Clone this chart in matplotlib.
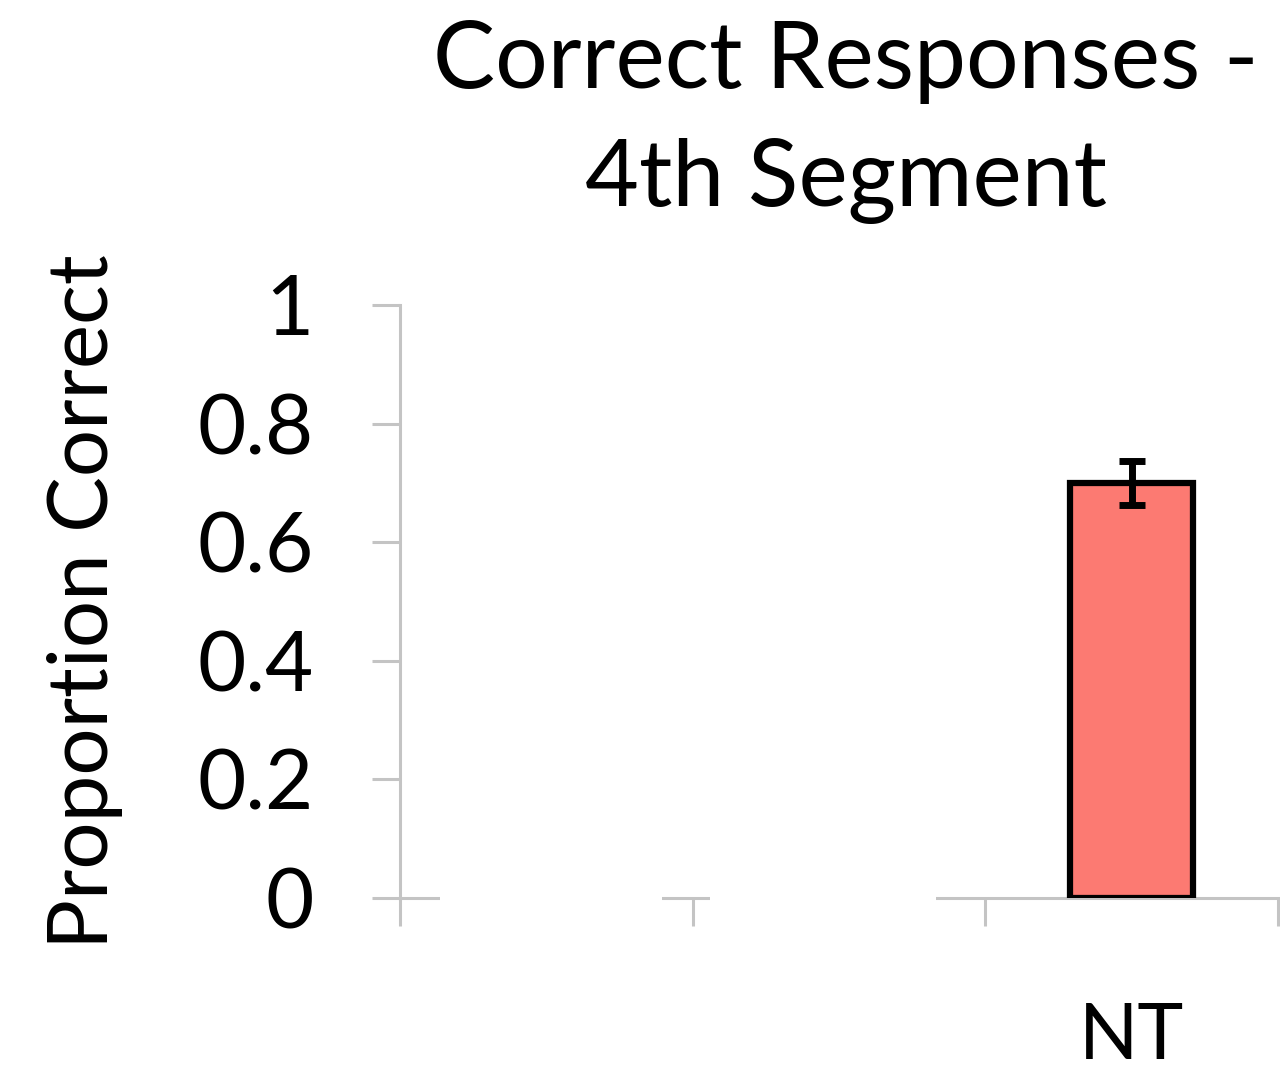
import numpy as np
import matplotlib.pyplot as plt

plt.rcParams['font.family'] = ['Lato', 'DejaVu Sans']

categories = ['', '', 'NT']
values = [np.nan, np.nan, 0.70]
errors = [0, 0, 0.037]
yticks = [0, 0.2, 0.4, 0.6, 0.8, 1]
ytick_labels = ['0', '0.2', '0.4', '0.6', '0.8', '1']

# parts of the baseline that are blanked out in the original
masked_spans = [(-0.363, 0.396), (0.56, 1.33)]

fig = plt.figure(figsize=(12.8, 10.83), dpi=100)
ax = fig.add_axes([0.3125, 0.1708, 0.686, 0.5476])

x = np.arange(len(categories))
ax.bar(x, values, width=0.42, color='#FC7A72', edgecolor='black', linewidth=4.5, zorder=3)
ax.errorbar(x, values, yerr=errors, fmt='none', ecolor='black', elinewidth=5,
            capsize=9.5, capthick=5, zorder=4)

for a, b in masked_spans:
    ax.axvspan(a, b, ymin=-0.008, ymax=0.008, color='white', clip_on=False, zorder=6, lw=0)

ax.set_xlim(-0.5, 2.5)
ax.set_ylim(0, 1)
ax.set_yticks(yticks, ytick_labels)
ax.set_xticks(np.arange(-0.5, 3, 1), [])
ax.set_xticks(x, categories, minor=True)

for s in ['top', 'right']:
    ax.spines[s].set_visible(False)
for s in ['left', 'bottom']:
    ax.spines[s].set_color('#c4c4c4')
    ax.spines[s].set_linewidth(2.2)

ax.tick_params(axis='both', which='major', length=20, width=2.2, color='#c4c4c4',
               labelsize=60, direction='out')
ax.tick_params(axis='y', pad=42)
ax.tick_params(axis='x', which='minor', length=0, labelsize=56, pad=75)

ax.set_ylabel('Proportion Correct', fontsize=60, labelpad=54)
ax.set_title('Correct Responses -\n4th Segment', fontsize=67, pad=71, linespacing=1.5, x=0.508)

fig.savefig('out.png', dpi=100)
